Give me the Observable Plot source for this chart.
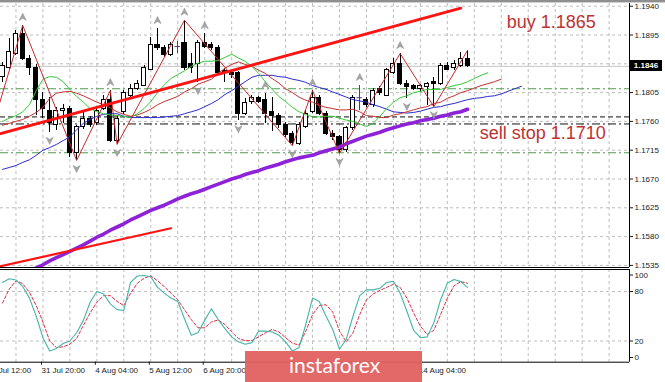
<!DOCTYPE html>
<html><head><meta charset="utf-8">
<script src="https://cdn.jsdelivr.net/npm/d3@7"></script>
<script src="https://cdn.jsdelivr.net/npm/@observablehq/plot@0.6"></script>
<style>
body{margin:0;background:#fff;}
#wrap{position:relative;width:665px;height:382px;overflow:hidden;background:#fff;font-family:"Liberation Sans",Arial,sans-serif;}
#wrap > svg{position:absolute;left:0;}
</style></head><body><div id="wrap"></div>
<script>
// ---------- data (EURUSD H4) ----------
const opens = [1.1829,1.1844,1.1866,1.1897,1.1858,1.1844,1.1793,1.1777,1.1754,1.1777,
1.1780,1.1711,1.1751,1.1763,1.1757,1.1780,1.1793,1.1730,1.1774,1.1800,
1.1811,1.1816,1.1841,1.1880,1.1875,1.1863,1.1877,1.1882,1.1850,1.1850,
1.1882,1.1879,1.1875,1.1838,1.1836,1.1835,1.1772,1.1790,1.1796,1.1793,
1.1774,1.1768,1.1754,1.1740,1.1725,1.1752,1.1774,1.1797,1.1772,1.1741,
1.1735,1.1715,1.1749,1.1797,1.1793,1.1785,1.1810,1.1800,1.1836,1.1850,
1.1819,1.1815,1.1810,1.1813,1.1821,1.1818,1.1846,1.1843,1.1846,1.1857];
const highs = [1.1852,1.1890,1.1902,1.1910,1.1863,1.1849,1.1805,1.1797,1.1782,1.1786,
1.1783,1.1754,1.1774,1.1768,1.1782,1.1800,1.1808,1.1769,1.1808,1.1818,
1.1824,1.1847,1.1891,1.1905,1.1879,1.1883,1.1885,1.1918,1.1866,1.1886,
1.1897,1.1883,1.1879,1.1843,1.1840,1.1838,1.1796,1.1800,1.1799,1.1804,
1.1797,1.1772,1.1758,1.1744,1.1758,1.1777,1.1808,1.1800,1.1775,1.1746,
1.1738,1.1752,1.1800,1.1816,1.1797,1.1811,1.1815,1.1843,1.1858,1.1866,
1.1824,1.1818,1.1818,1.1821,1.1829,1.1850,1.1852,1.1855,1.1868,1.1871];
const lows = [1.1821,1.1841,1.1863,1.1855,1.1832,1.1769,1.1764,1.1743,1.1746,1.1757,
1.1704,1.1699,1.1747,1.1751,1.1754,1.1777,1.1727,1.1724,1.1771,1.1797,
1.1808,1.1815,1.1840,1.1871,1.1860,1.1861,1.1866,1.1840,1.1835,1.1821,
1.1874,1.1871,1.1833,1.1821,1.1827,1.1761,1.1769,1.1786,1.1788,1.1757,
1.1744,1.1749,1.1735,1.1722,1.1722,1.1749,1.1772,1.1769,1.1738,1.1730,
1.1710,1.1711,1.1746,1.1777,1.1782,1.1782,1.1800,1.1799,1.1833,1.1816,
1.1796,1.1808,1.1805,1.1785,1.1783,1.1816,1.1840,1.1840,1.1844,1.1844];
const closes = [1.1847,1.1868,1.1897,1.1858,1.1844,1.1793,1.1780,1.1757,1.1777,1.1780,
1.1710,1.1751,1.1764,1.1755,1.1777,1.1793,1.1730,1.1764,1.1804,1.1811,
1.1819,1.1843,1.1880,1.1875,1.1863,1.1880,1.1877,1.1844,1.1844,1.1882,
1.1877,1.1875,1.1836,1.1835,1.1833,1.1772,1.1788,1.1796,1.1791,1.1772,
1.1768,1.1754,1.1738,1.1727,1.1754,1.1772,1.1797,1.1772,1.1741,1.1735,
1.1715,1.1749,1.1796,1.1797,1.1785,1.1808,1.1804,1.1840,1.1850,1.1819,
1.1813,1.1810,1.1815,1.1818,1.1818,1.1846,1.1841,1.1850,1.1858,1.1846];

// Alligator lines (green lips, red teeth, blue jaw), shifted forward past the last bar
const lips = [1.1760,1.1765,1.1769,1.1775,1.1786,1.1808,1.1826,1.1830,1.1829,1.1822,
1.1810,1.1799,1.1790,1.1780,1.1775,1.1772,1.1770,1.1769,1.1768,1.1766,
1.1772,1.1780,1.1791,1.1805,1.1817,1.1827,1.1833,1.1839,1.1846,1.1851,
1.1854,1.1854,1.1855,1.1860,1.1865,1.1859,1.1854,1.1846,1.1835,1.1822,
1.1810,1.1799,1.1791,1.1782,1.1775,1.1771,1.1767,1.1767,1.1768,1.1768,
1.1765,1.1762,1.1760,1.1756,1.1752,1.1757,1.1768,1.1780,1.1790,1.1797,
1.1800,1.1805,1.1807,1.1810,1.1810,1.1810,1.1813,1.1816,1.1818,1.1822,
1.1827,1.1832,1.1836];
const teeth = [1.1754,1.1757,1.1760,1.1763,1.1768,1.1774,1.1782,1.1796,1.1804,1.1806,
1.1807,1.1804,1.1800,1.1795,1.1790,1.1786,1.1781,1.1775,1.1771,1.1768,
1.1770,1.1774,1.1779,1.1786,1.1791,1.1795,1.1799,1.1806,1.1811,1.1818,
1.1822,1.1826,1.1835,1.1843,1.1849,1.1853,1.1849,1.1846,1.1840,1.1835,
1.1827,1.1820,1.1811,1.1805,1.1798,1.1793,1.1790,1.1785,1.1782,1.1780,
1.1778,1.1778,1.1779,1.1775,1.1769,1.1768,1.1766,1.1766,1.1770,1.1772,
1.1775,1.1778,1.1781,1.1783,1.1788,1.1790,1.1796,1.1800,1.1805,1.1808,
1.1812,1.1816,1.1819,1.1822,1.1826];
const jaw = [1.1685,1.1688,1.1691,1.1696,1.1700,1.1707,1.1715,1.1719,1.1724,1.1730,
1.1736,1.1747,1.1757,1.1763,1.1768,1.1771,1.1772,1.1772,1.1768,1.1766,
1.1766,1.1766,1.1766,1.1766,1.1767,1.1768,1.1769,1.1772,1.1775,1.1778,
1.1783,1.1788,1.1794,1.1802,1.1808,1.1815,1.1822,1.1829,1.1832,1.1832,
1.1832,1.1830,1.1829,1.1826,1.1824,1.1821,1.1816,1.1813,1.1810,1.1806,
1.1802,1.1798,1.1794,1.1792,1.1790,1.1786,1.1783,1.1779,1.1775,1.1774,
1.1773,1.1774,1.1776,1.1779,1.1782,1.1783,1.1786,1.1788,1.1791,1.1794,
1.1796,1.1797,1.1799,1.1800,1.1803,1.1807,1.1811,1.1815];
// slow moving average (thick purple)
const maSlow = [null,null,null,null,1.1526,1.1531,1.1536,1.1542,1.1547,1.1552,
1.1557,1.1562,1.1567,1.1573,1.1579,1.1584,1.1590,1.1595,1.1600,1.1606,
1.1611,1.1616,1.1621,1.1625,1.1629,1.1634,1.1639,1.1643,1.1647,1.1650,
1.1654,1.1658,1.1662,1.1666,1.1670,1.1673,1.1677,1.1680,1.1683,1.1687,
1.1690,1.1693,1.1697,1.1700,1.1703,1.1705,1.1707,1.1711,1.1714,1.1717,
1.1720,1.1725,1.1729,1.1733,1.1737,1.1740,1.1743,1.1747,1.1750,1.1753,
1.1756,1.1758,1.1761,1.1763,1.1765,1.1768,1.1770,1.1773,1.1775,1.1779];

// ZigZag pivots
const zigzagBars = [-2,3,11,16,17,27,43,46,50,59,64,69];
const zigzagPrices = [1.1733,1.1910,1.1699,1.1808,1.1724,1.1918,1.1722,1.1808,1.1710,1.1866,1.1783,1.1871];
// Fractals
const upFractals = [3,16,23,27,30,39,46,53,59];
const downFractals = [7,11,17,29,35,43,50,60,64];
// Trend lines
const trendUpperBars = [-1,68], trendUpperPrices = [1.1739,1.1937];
const trendLowerBars = [-1,25], trendLowerPrices = [1.1532,1.1593];
// Horizontal levels
const greenLevels = [1.1811,1.1711];
const blackDashLevels = [1.1767];
const blackDashDotLevels = [1.1756];
// Stochastic
const stochMain = [91,95.5,94,86,72,50,24,8,11,17,
20,30,45,67,80,77,65,58,57,91,
98.8,99.5,98,85,78,72,68,47,27,30,
45,59,46,35,25,19,16,18,32,32,
31,27,19,8,12,40,72,68,50,34,
10,22,50,75,82,82,84,91,92.5,78,
56,33,24,25,42,70,90,94.5,92,85];
const stochSignal = [66,83,93,89.5,79,63,43,20,12,13,
16,23,39,54,67,75,75,68,63,78,
90,96,99,93,86,78,70,58,46,36,
36,43,45.5,40,31,23,20.5,20.5,25,30,
34,31,24,17.5,15,32,52,63,64,55,
32,19,30,52,70,77,81.5,85,88.8,85,
72,54,38,28,33,52,72,87,92,90];
// Axes (time labels hidden under the watermark in the reference are not drawn)
const priceTicks = [1.1940,1.1895,1.1850,1.1805,1.1760,1.1715,1.1670,1.1625,1.1580,1.1535];
const priceLabelTicks = [1.1940,1.1895,1.1805,1.1760,1.1715,1.1670,1.1625,1.1580,1.1535];
const stochTicks = [0,20,80,100];
const stochGrid = [20,80];
const gridBars = d3.range(2, 93, 4);
const timeLabelBars = [-2,6,14,22,30,62];
const timeLabels = ["30 Jul 12:00","31 Jul 20:00","4 Aug 04:00","5 Aug 12:00","6 Aug 20:00","14 Aug 04:00"];
// Annotations
const annTexts = ["buy 1.1865","sell stop 1.1710"];
const annBars = [74.8,70.8];
const annPrices = [1.19059,1.17328];

// ---------- build ----------
const bars = opens.map((o,i)=>({i, open:o, high:highs[i], low:lows[i], close:closes[i]}));
const series = arr => arr.map((v,i)=>({i, v}));
const xDomain = [-0.2967, 93.027];
const yDomain = [1.153172, 1.194422];
const DOJI = "#6a2a8e";
const gridStyle = {stroke:"#bdbdbd", strokeOpacity:1, strokeDasharray:"3,3", strokeWidth:1};
const font = "'Liberation Sans', Arial, sans-serif";

const arrowUp = {draw(ctx, size){const s=Math.sqrt(size)/2; ctx.moveTo(0,-s*1.15); ctx.lineTo(s,s*0.85); ctx.lineTo(0,s*0.25); ctx.lineTo(-s,s*0.85); ctx.closePath();}};
const arrowDown = {draw(ctx, size){const s=Math.sqrt(size)/2; ctx.moveTo(0,s*1.15); ctx.lineTo(s,-s*0.85); ctx.lineTo(0,-s*0.25); ctx.lineTo(-s,-s*0.85); ctx.closePath();}};

const priceChart = Plot.plot({
  width:665, height:268, marginLeft:0, marginRight:36, marginTop:3, marginBottom:1,
  x:{domain:xDomain, axis:null},
  y:{domain:yDomain, axis:null},
  style:{fontFamily:font, fontSize:"8px", background:"transparent", overflow:"visible", color:"#1a1a1a"},
  marks:[
    Plot.ruleX(gridBars, gridStyle),
    Plot.ruleY(priceTicks, gridStyle),
    Plot.ruleY([closes[closes.length-1]], {stroke:"#c4c4c4"}),
    Plot.ruleY(greenLevels, {stroke:"#4e9b4e", strokeDasharray:"8,3,2,3"}),
    Plot.ruleY(blackDashLevels, {stroke:"#111", strokeDasharray:"5,3"}),
    Plot.ruleY(blackDashDotLevels, {stroke:"#111", strokeDasharray:"8,3,2,3"}),
    // candles
    Plot.ruleX(bars, {x:"i", y1:"low", y2:"high", stroke:d=>d.open===d.close?DOJI:"#000", strokeWidth:1, shapeRendering:"crispEdges"}),
    Plot.rect(bars.filter(d=>d.open!==d.close), {x1:d=>d.i-0.3, x2:d=>d.i+0.3, y1:"open", y2:"close", fill:d=>d.close>d.open?"#fff":"#000", stroke:"#000", strokeWidth:1, shapeRendering:"crispEdges"}),
    Plot.ruleY(bars.filter(d=>d.open===d.close), {y:"open", x1:d=>d.i-0.4, x2:d=>d.i+0.4, stroke:DOJI}),
    // indicators
    Plot.line(series(maSlow), {x:"i", y:"v", stroke:"#8e22d8", strokeWidth:3.6, clip:true}),
    Plot.line(series(jaw), {x:"i", y:"v", stroke:"#2b2bd4", strokeWidth:1, clip:true}),
    Plot.line(series(teeth), {x:"i", y:"v", stroke:"#c83030", strokeWidth:1, clip:true}),
    Plot.line(series(lips), {x:"i", y:"v", stroke:"#38c838", strokeWidth:1, clip:true}),
    Plot.line(zigzagBars.map((b,k)=>({i:b, v:zigzagPrices[k]})), {x:"i", y:"v", stroke:"#c42a2a", strokeWidth:1, clip:true}),
    Plot.line(trendUpperBars.map((b,k)=>({i:b, v:trendUpperPrices[k]})), {x:"i", y:"v", stroke:"#ff1414", strokeWidth:2.8, clip:true}),
    Plot.line(trendLowerBars.map((b,k)=>({i:b, v:trendLowerPrices[k]})), {x:"i", y:"v", stroke:"#ff1414", strokeWidth:2.2, clip:true}),
    // fractals
    Plot.dot(upFractals, {x:d=>d, y:d=>highs[d], dy:-8, symbol:arrowUp, r:4, fill:"#a6a6a6", stroke:"#8a8a8a", strokeWidth:0.5}),
    Plot.dot(downFractals, {x:d=>d, y:d=>lows[d], dy:8, symbol:arrowDown, r:4, fill:"#a6a6a6", stroke:"#8a8a8a", strokeWidth:0.5}),
    // annotations
    Plot.text(annTexts, {x:(d,k)=>annBars[k], y:(d,k)=>annPrices[k], text:d=>d, textAnchor:"start", lineAnchor:"bottom", fontSize:18, fill:"#bd3333", fontFamily:"'Liberation Sans', Arial, sans-serif"}),
    // axis + frame
    Plot.axisY(priceLabelTicks, {anchor:"right", tickSize:3, tickPadding:2, tickFormat:d=>d.toFixed(4), label:null, fill:"#1a1a1a"}),
    Plot.ruleX([xDomain[1]], {stroke:"#000"}),
    Plot.ruleY([yDomain[0]], {stroke:"#000"})
  ]
});
priceChart.style.top = "0px";

const stochChart = Plot.plot({
  width:665, height:114, marginLeft:0, marginRight:36, marginTop:1, marginBottom:20.3,
  x:{domain:xDomain, axis:null},
  y:{domain:[-5.7,106.7], axis:null},
  style:{fontFamily:font, fontSize:"8px", background:"transparent", overflow:"visible", color:"#1a1a1a"},
  marks:[
    Plot.ruleX(gridBars, gridStyle),
    Plot.ruleY(stochGrid, gridStyle),
    Plot.line(series(stochSignal), {x:"i", y:"v", stroke:"#d83040", strokeWidth:1, strokeDasharray:"3,2"}),
    Plot.line(series(stochMain), {x:"i", y:"v", stroke:"#45b5ab", strokeWidth:1.1}),
    Plot.axisY(stochTicks, {anchor:"right", tickSize:3, tickPadding:2, label:null, fill:"#1a1a1a"}),
    Plot.axisX(timeLabelBars, {anchor:"bottom", tickSize:3, tickPadding:2, label:null, textAnchor:"start", dx:-1.5, tickFormat:d=>timeLabels[timeLabelBars.indexOf(d)], fill:"#1a1a1a"}),
    Plot.ruleX([xDomain[1]], {stroke:"#000"}),
    Plot.ruleY([106.7], {stroke:"#000"}),
    Plot.ruleY([-5.7], {stroke:"#000"})
  ]
});
stochChart.style.top = "268px";

const wrap = document.getElementById("wrap");
wrap.appendChild(priceChart);
wrap.appendChild(stochChart);

// top border band
const band = document.createElement("div");
band.style.cssText = "position:absolute;left:0;top:0;width:665px;height:2px;background:#8f8f8f;border-bottom:1px solid #d0d0d0;";
wrap.appendChild(band);

// current price label
const yScale = priceChart.scale("y");
const last = closes[closes.length-1];
const box = document.createElement("div");
const yy = yScale.apply(last);
box.style.cssText = `position:absolute;left:630px;top:${yy-5.5}px;width:32px;height:11px;background:#000;color:#fff;font:bold 8px 'Liberation Sans',Arial,sans-serif;line-height:11px;text-align:center;`;
box.textContent = last.toFixed(4);
wrap.appendChild(box);

// watermark
const wm = document.createElement("div");
wm.style.cssText = "position:absolute;left:245px;top:351px;width:177px;height:31px;background:rgba(226,96,96,0.95);";
wm.innerHTML = '<svg width="177" height="31" style="position:absolute;left:0;top:0"><text x="44" y="22" fill="#fff" font-family="Lato, \'Open Sans\', sans-serif" font-size="21">instaforex</text></svg>';
wrap.appendChild(wm);
</script>
</body></html>
